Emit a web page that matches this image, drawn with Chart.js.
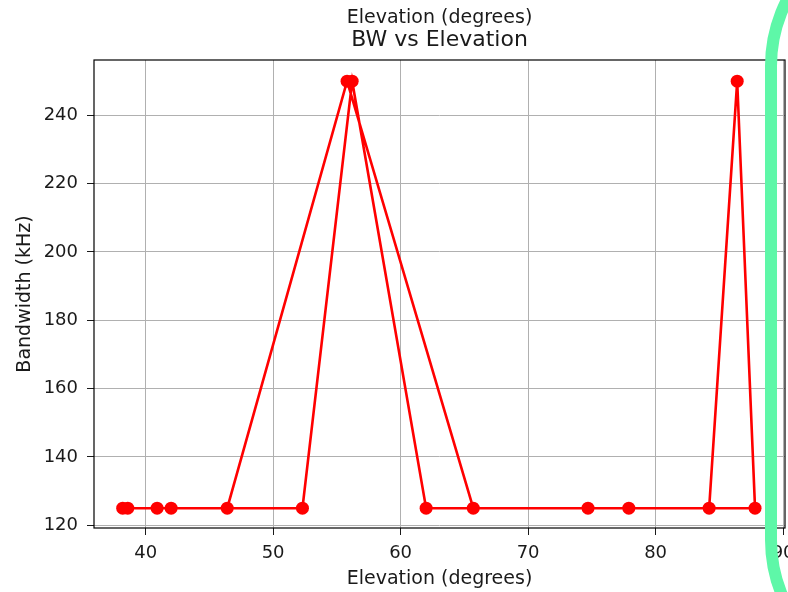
<!DOCTYPE html>
<html>
<head>
<meta charset="utf-8">
<script src="https://cdn.jsdelivr.net/npm/chart.js@4/dist/chart.umd.min.js"></script>
<style>
  html, body { margin: 0; padding: 0; background: #fff; overflow: hidden; }
  #wrap { position: relative; width: 788px; height: 592px; }
  #marker {
    position: absolute; left: 765px; top: -84px; width: 300px; height: 774px;
    border: 12px solid #5ef7a8; border-radius: 167px; box-sizing: border-box;
  }
</style>
</head>
<body>
<div id="wrap">
  <canvas id="stage" width="788" height="592"></canvas>
  <div id="marker"></div>
</div>
<script>
// points in the order they were recorded (the line follows this order)
const elevation = [38.2, 40.9, 46.4, 55.8, 65.7, 74.7, 84.2, 86.4, 87.8, 77.9, 62.0, 56.2, 52.3, 42.0, 38.6];
const bandwidth = [125, 125, 125, 250, 125, 125, 125, 250, 125, 125, 125, 250, 125, 125, 125];
const xTicks = [40, 50, 60, 70, 80, 90];
const yTicks = [120, 140, 160, 180, 200, 220, 240];

const canvas = document.getElementById('stage');

var points = [];
for (var i = 0; i < elevation.length; ++i) {
    points.push({x: elevation[i], y: bandwidth[i]});
}

// black box round the plot area, like matplotlib's frame
const frame = {
    id: 'frame',
    afterDatasetsDraw(chart) {
        const a = chart.chartArea;
        const ctx = chart.ctx;
        ctx.save();
        ctx.strokeStyle = '#000';
        ctx.lineWidth = 1.2;
        ctx.strokeRect(a.left, a.top, a.right - a.left, a.bottom - a.top);
        ctx.restore();
    }
};

const tickFont = {family: 'DejaVu Sans', size: 18};

new Chart(canvas, {
    type: 'scatter',
    data: {
        datasets: [{
            data: points,
            showLine: true,
            borderColor: '#ff0000',
            backgroundColor: '#ff0000',
            borderWidth: 2.6,
            pointRadius: 6.5,
            pointBorderWidth: 0,
            pointHoverRadius: 6.5
        }]
    },
    options: {
        responsive: false,
        animation: false,
        layout: {autoPadding: false, padding: {left: 0, right: 3, top: 0, bottom: 0}},
        plugins: {
            legend: {display: false},
            tooltip: {enabled: false},
            title: {
                display: true,
                text: 'Elevation (degrees)',
                fullSize: false,
                color: '#1a1a1a',
                font: {family: 'DejaVu Sans', size: 19, weight: 'normal', lineHeight: 1},
                padding: {top: 9, bottom: 0}
            },
            subtitle: {
                display: true,
                text: 'BW vs Elevation',
                fullSize: false,
                color: '#1a1a1a',
                font: {family: 'DejaVu Sans', size: 22, weight: 'normal', lineHeight: 1},
                padding: {top: 1, bottom: 9}
            }
        },
        scales: {
            x: {
                type: 'linear',
                min: 35.95,
                max: 90.15,
                afterBuildTicks: (s) => { s.ticks = xTicks.map(v => ({value: v})); },
                afterFit: (s) => { s.height = 64; s.paddingLeft = 0; s.paddingRight = 0; },
                grid: {color: '#b0b0b0', lineWidth: 1, tickColor: '#1a1a1a', tickLength: 7},
                border: {display: false},
                ticks: {color: '#1a1a1a', font: tickFont, padding: 8, maxRotation: 0},
                title: {
                    display: true,
                    text: 'Elevation (degrees)',
                    color: '#1a1a1a',
                    font: {family: 'DejaVu Sans', size: 19},
                    padding: {top: 0, bottom: 2}
                }
            },
            y: {
                type: 'linear',
                min: 119.2,
                max: 256.2,
                afterBuildTicks: (s) => { s.ticks = yTicks.map(v => ({value: v})); },
                afterFit: (s) => { s.width = 94; },
                grid: {color: '#b0b0b0', lineWidth: 1, tickColor: '#1a1a1a', tickLength: 7},
                border: {display: false},
                ticks: {color: '#1a1a1a', font: tickFont, padding: 9},
                title: {
                    display: true,
                    text: 'Bandwidth (kHz)',
                    color: '#1a1a1a',
                    font: {family: 'DejaVu Sans', size: 19},
                    padding: {top: 14, bottom: 0}
                }
            }
        }
    },
    plugins: [frame]
});
</script>
</body>
</html>
